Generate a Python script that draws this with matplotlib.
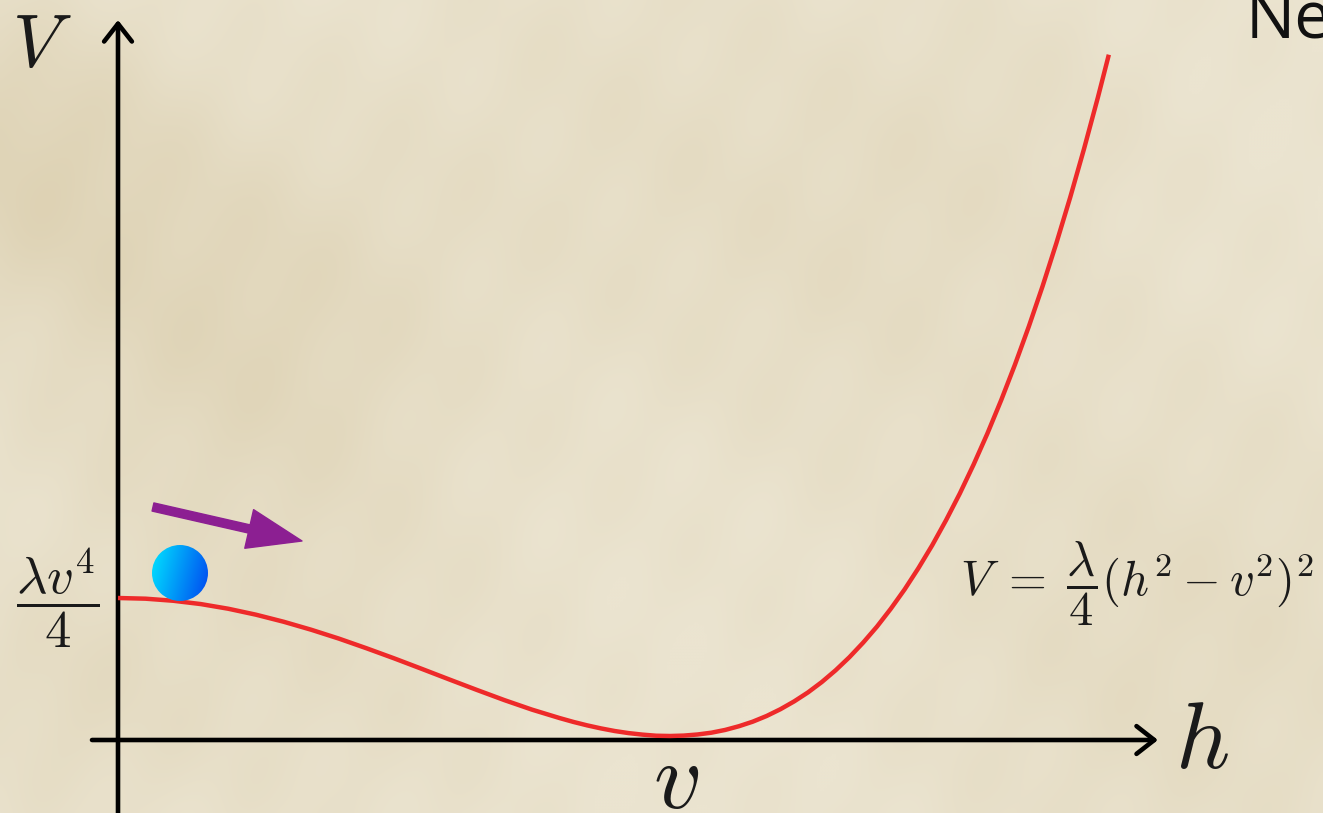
import numpy as np
import matplotlib
matplotlib.use("Agg")
import matplotlib.pyplot as plt
from matplotlib.patches import Ellipse

plt.rcParams['mathtext.fontset'] = 'cm'

# potential (h in units of v, V in units of lambda v^4 / 4)
h_vals = [0.00, 0.05, 0.10, 0.15, 0.20, 0.25, 0.30, 0.35, 0.40, 0.45,
          0.50, 0.55, 0.60, 0.65, 0.70, 0.75, 0.80, 0.825, 0.85, 0.875,
          0.90, 0.925, 0.95, 0.975, 1.00, 1.025, 1.05, 1.075, 1.10, 1.125,
          1.15, 1.175, 1.20, 1.225, 1.25, 1.275, 1.30, 1.325, 1.35, 1.375,
          1.40, 1.425, 1.45, 1.475, 1.50, 1.525, 1.55, 1.575, 1.60, 1.625,
          1.65, 1.675, 1.70, 1.725, 1.75, 1.775, 1.795]
V_vals = [1.000, 0.995, 0.980, 0.956, 0.922, 0.879, 0.828, 0.770, 0.706, 0.636,
          0.563, 0.487, 0.410, 0.334, 0.260, 0.191, 0.130, 0.102, 0.077, 0.055,
          0.036, 0.021, 0.010, 0.002, 0.000, 0.003, 0.011, 0.024, 0.044, 0.071,
          0.104, 0.145, 0.194, 0.251, 0.316, 0.391, 0.476, 0.571, 0.677, 0.793,
          0.922, 1.062, 1.216, 1.382, 1.563, 1.757, 1.967, 2.192, 2.434, 2.692,
          2.967, 3.260, 3.572, 3.903, 4.254, 4.625, 4.937]

W, H = 1323, 813
fig = plt.figure(figsize=(W / 100, H / 100), dpi=100)

# parchment background
bg = fig.add_axes([0, 0, 1, 1])
bg.set_axis_off()
yy, xx = np.mgrid[0:H:3, 0:W:3]
base = np.array([235, 228, 208]) / 255.0
dark = np.array([218, 205, 172]) / 255.0
spots = [(230, 330, 150, 0.55), (15, 150, 110, 0.6), (620, 140, 180, 0.25),
         (1180, 640, 200, 0.35), (860, 300, 140, 0.2), (330, 660, 150, 0.25),
         (60, 700, 90, 0.3), (1000, 120, 120, 0.2)]
w = np.zeros_like(xx, dtype=float)
for cx, cy, r, a in spots:
    w += a * np.exp(-((xx - cx) ** 2 + (yy - cy) ** 2) / (2 * r ** 2))
w += 0.08 * (np.sin(xx / 23.0) * np.sin(yy / 31.0 + xx / 57.0))
w = np.clip(w, 0, 1)[..., None]
img = base * (1 - w) + dark * w
bg.imshow(img, extent=[0, W, H, 0], aspect='auto', interpolation='bicubic')
bg.set_xlim(0, W)
bg.set_ylim(H, 0)

# main axes: h=0 at px 118, h=1 at px 670; V=0 at px 736, V=1 at px 598
sx, sy = 552.0, 138.0
ox, oy = 118.0, 736.0
ax = fig.add_axes([0, 0, 1, 1])
ax.set_axis_off()
ax.patch.set_alpha(0)

def px(x, y):
    return (x - ox) / sx, (oy - y) / sy

# axes with open arrow heads
arr = dict(arrowstyle='->, head_length=0.32, head_width=0.25', lw=3.3, color='black',
           shrinkA=0, shrinkB=0, mutation_scale=40)
ax.annotate('', xy=px(1158, 740), xytext=px(92, 740), arrowprops=arr)
ax.annotate('', xy=px(118, 20), xytext=px(118, 813), arrowprops=arr)

ax.plot(h_vals, V_vals, color='#ee2a2a', lw=3.2, solid_capstyle='butt', zorder=3)

# ball with gradient
cx, cy = px(180, 573)
ball = Ellipse((cx, cy), 2 * 28 / sx, 2 * 28 / sy, transform=ax.transData,
               facecolor='none', edgecolor='none')
ax.add_patch(ball)
gx, gy = np.meshgrid(np.linspace(0, 1, 64), np.linspace(0, 1, 64))
t = np.clip(0.8 * gx + 0.2 * gy, 0, 1)[..., None]
c1 = np.array([0, 228, 255]) / 255.0
c2 = np.array([0, 70, 240]) / 255.0
grad = c1 * (1 - t) + c2 * t
im = ax.imshow(grad, extent=[cx - 28 / sx, cx + 28 / sx, cy - 28 / sy, cy + 28 / sy],
               origin='upper', aspect='auto', zorder=4, interpolation='bilinear')
im.set_clip_path(ball)
ax.set_xlim(-ox / sx, (W - ox) / sx)
ax.set_ylim(-(H - oy) / sy, oy / sy)

# purple arrow
ax.annotate('', xy=px(302, 541), xytext=px(153, 507),
            arrowprops=dict(arrowstyle='simple, head_length=1.3, head_width=0.95, tail_width=0.2',
                            color='#8c1f92', shrinkA=0, shrinkB=0, mutation_scale=30), zorder=5)

def ftext(x, y, s, **kw):
    fig.text(x / W, 1 - y / H, s, **kw)

ink = '#1a1a1a'
ftext(42, 45, r'$V$', fontsize=54, ha='center', va='center', color=ink)
ftext(58, 598, r'$\dfrac{\lambda v^4}{4}$', fontsize=38, ha='center', va='center', color=ink)
ftext(1202, 742, r'$h$', fontsize=68, ha='center', va='center', color=ink)
ftext(676, 782, r'$v$', fontsize=68, ha='center', va='center', color=ink)
ftext(960, 583, r'$V\;=\;\dfrac{\lambda}{4}(h^2 - v^2)^2$', fontsize=35, ha='left', va='center',
      color=ink)
ftext(1246, 37, 'Ne', fontsize=47, ha='left', va='baseline', family='Open Sans', color='#111111')

fig.savefig('out.png', dpi=100)
